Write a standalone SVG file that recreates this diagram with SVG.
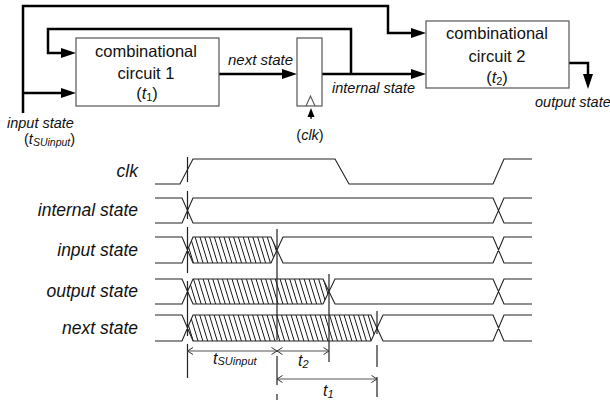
<svg xmlns="http://www.w3.org/2000/svg" width="610" height="401" viewBox="0 0 610 401">
<style>
.box{fill:#fff;stroke:#555;stroke-width:1.2}
.wire{fill:none;stroke:#000;stroke-width:2.5;stroke-linejoin:miter}
.t{font-family:"Liberation Sans",Arial,sans-serif;fill:#111}
.i{font-style:italic}
.sig{fill:none;stroke:#222;stroke-width:1.1}
.mark{fill:none;stroke:#222;stroke-width:1.2}
.dim{fill:none;stroke:#555;stroke-width:1}
.hat{fill:url(#hatch);stroke:none}
</style>
<defs>
<marker id="ah" markerUnits="userSpaceOnUse" markerWidth="15" markerHeight="11" refX="10" refY="5.5" orient="auto"><path d="M0,0.5 L15,5.5 L0,10.5 z" fill="#000"/></marker>
<marker id="ahs" markerUnits="userSpaceOnUse" markerWidth="9" markerHeight="8" refX="5" refY="4" orient="auto"><path d="M0,0.5 L9,4 L0,7.5 z" fill="#000"/></marker>
<marker id="ch" markerUnits="userSpaceOnUse" markerWidth="8" markerHeight="9" refX="6.5" refY="4.5" orient="auto-start-reverse"><path d="M1,1 L6.5,4.5 L1,8" fill="none" stroke="#333" stroke-width="1"/></marker>
<pattern id="hatch" patternUnits="userSpaceOnUse" width="4.6" height="20" patternTransform="rotate(-17)"><line x1="2.3" y1="-2" x2="2.3" y2="22" stroke="#000" stroke-width="0.9"/></pattern>
</defs>

<g id="connectors">
<path class="wire" d="M23,113 V6 H388 V33 H421" marker-end="url(#ah)"/>
<path class="wire" d="M23,93 H71" marker-end="url(#ah)"/>
<path class="wire" d="M351,74 V29 H48 V53 H71" marker-end="url(#ah)"/>
<path class="wire" d="M219,74 H292" marker-end="url(#ah)"/>
<path class="wire" d="M322,74 H421" marker-end="url(#ah)"/>
<path class="wire" d="M569,63 H588 V84" marker-end="url(#ah)"/>
<path fill="none" stroke="#000" stroke-width="1.3" d="M311,119 V112" marker-end="url(#ahs)"/>
</g>

<g id="cc1">
<rect class="box" x="76" y="38" width="143" height="68"/>
<text class="t" x="146" y="57" font-size="16.5" text-anchor="middle">combinational</text>
<text class="t" x="146" y="79" font-size="16.5" text-anchor="middle">circuit 1</text>
<text class="t" x="147" y="99" font-size="16.5" text-anchor="middle">(<tspan class="i">t</tspan><tspan font-size="11" dy="2">1</tspan><tspan dy="-2">)</tspan></text>
</g>

<g id="ff">
<rect class="box" x="297" y="38" width="25" height="68"/>
<polyline points="306,106 310.5,96 315,106" fill="none" stroke="#555" stroke-width="1.1"/>
</g>

<g id="cc2">
<rect class="box" x="426" y="21" width="143" height="67"/>
<text class="t" x="497" y="39" font-size="16.5" text-anchor="middle">combinational</text>
<text class="t" x="497" y="62" font-size="16.5" text-anchor="middle">circuit 2</text>
<text class="t" x="497" y="83" font-size="16.5" text-anchor="middle">(<tspan class="i">t</tspan><tspan font-size="11" dy="2">2</tspan><tspan dy="-2">)</tspan></text>
</g>

<g id="labels">
<text class="t i" x="228" y="65" font-size="15">next state</text>
<text class="t i" x="332" y="93" font-size="14.5">internal state</text>
<text class="t i" x="7" y="128" font-size="14.5">input state</text>
<text class="t" x="24" y="144" font-size="14.5">(<tspan class="i">t</tspan><tspan class="i" font-size="10.5" dy="2">SUinput</tspan><tspan dy="-2">)</tspan></text>
<text class="t i" x="535" y="107" font-size="14.5">output state</text>
<text class="t" x="310" y="140" font-size="14.5" text-anchor="middle">(<tspan class="i">clk</tspan>)</text>
</g>

<g id="timing">
<text class="t i" x="138" y="177" font-size="17.5" text-anchor="end">clk</text>
<text class="t i" x="138" y="216" font-size="17.5" text-anchor="end">internal state</text>
<text class="t i" x="138" y="256" font-size="17.5" text-anchor="end">input state</text>
<text class="t i" x="138" y="297" font-size="17.5" text-anchor="end">output state</text>
<text class="t i" x="138" y="334" font-size="17.5" text-anchor="end">next state</text>

<path class="sig" d="M155,184 H180 L193,159 H335 L349,184 H493 L504,159 H532"/>

<path class="sig" d="M155,198 H182 L193,223 H493 L504,198 H532 M155,223 H182 L193,198 H493 L504,223 H532"/>

<polygon class="hat" points="187.5,250 193,237 271,237 277,250 271,263 193,263"/>
<path class="sig" d="M155,237 H182 L193,263 H271 L283,237 H493 L504,263 H532 M155,263 H182 L193,237 H271 L283,263 H493 L504,237 H532"/>

<polygon class="hat" points="187.5,291.5 193,279 323,279 329,291.5 323,304 193,304"/>
<path class="sig" d="M155,279 H182 L193,304 H323 L335,279 H493 L504,304 H532 M155,304 H182 L193,279 H323 L335,304 H493 L504,279 H532"/>

<polygon class="hat" points="187.5,328 193,315 371,315 377,328 371,341 193,341"/>
<path class="sig" d="M155,315 H182 L193,341 H371 L383,315 H493 L504,341 H532 M155,341 H182 L193,315 H371 L383,341 H493 L504,315 H532"/>

<path class="mark" d="M187.5,157 V182 M187.5,191 V219 M187.5,227 V273 M187.5,281 V336 M187.5,344 V378"/>
<path class="mark" d="M277,229 V340 M277,356 V385 M277,394 V400"/>
<path class="mark" d="M329,274 V362"/>
<path class="mark" d="M377,311 V334 M377,345 V367 M377,377 V397"/>

<path class="dim" d="M187.5,351 H277" marker-start="url(#ch)" marker-end="url(#ch)"/>
<path class="dim" d="M277,351 H329" marker-start="url(#ch)" marker-end="url(#ch)"/>
<path class="dim" d="M277,379 H377" marker-start="url(#ch)" marker-end="url(#ch)"/>

<text class="t i" x="213" y="364" font-size="16">t<tspan font-size="11" dy="1">SUinput</tspan></text>
<text class="t i" x="298" y="366" font-size="16">t<tspan font-size="11" dy="2">2</tspan></text>
<text class="t i" x="323" y="396" font-size="16">t<tspan font-size="11" dy="2">1</tspan></text>
</g>
</svg>
